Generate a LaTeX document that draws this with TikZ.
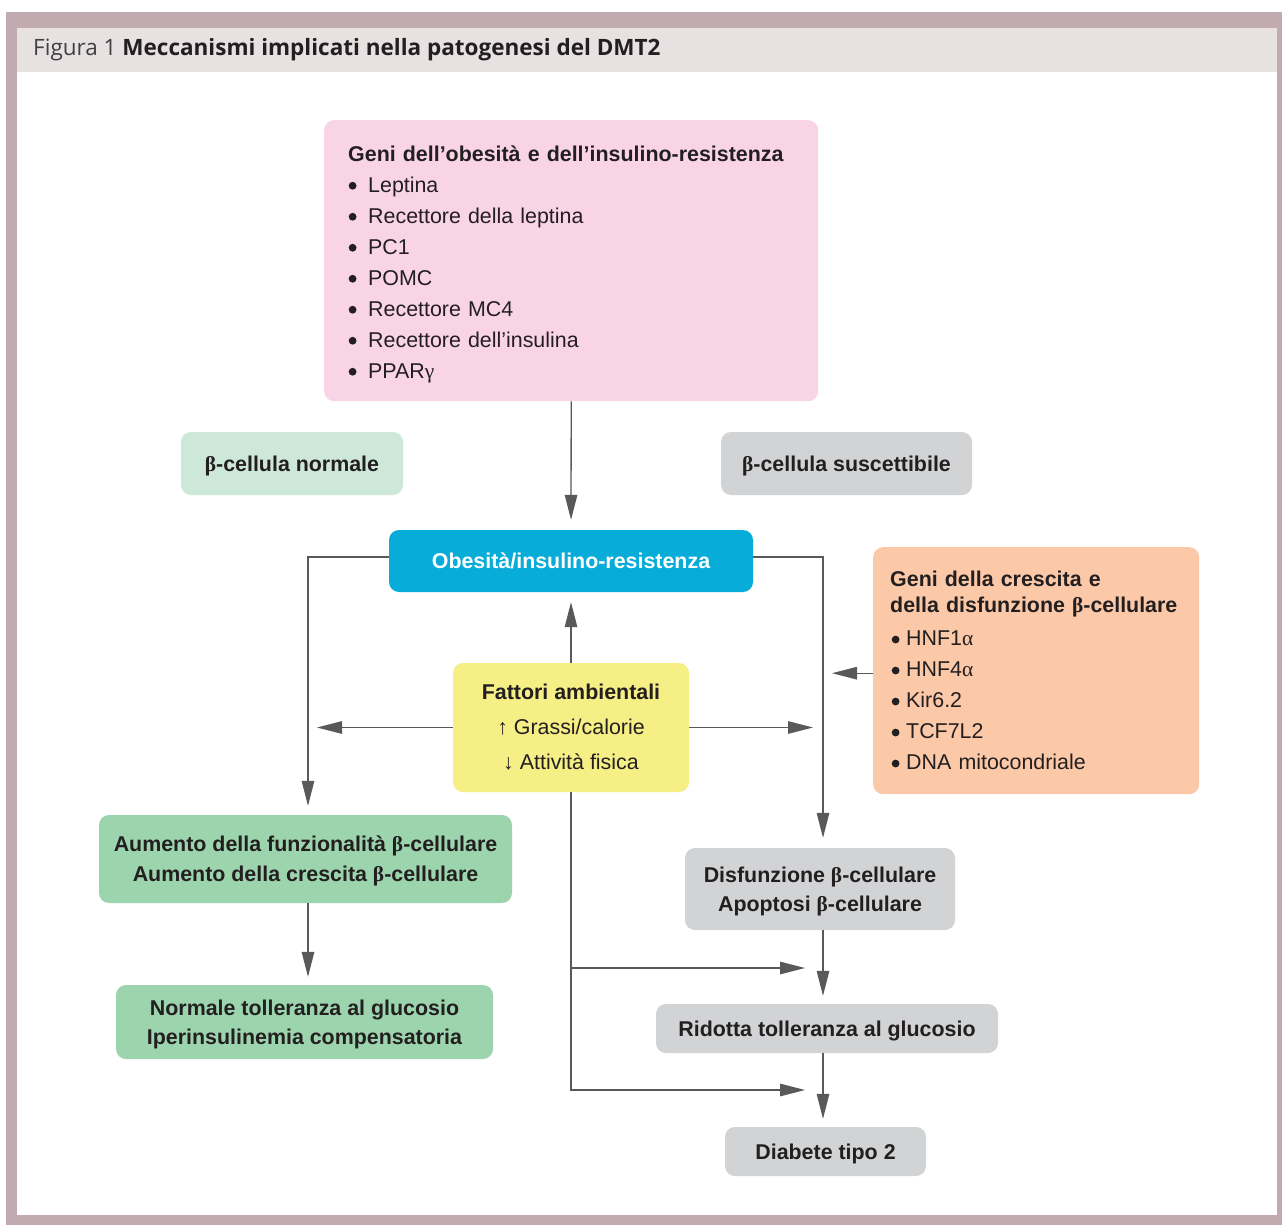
\documentclass[tikz,border=0pt]{standalone}
\usepackage{fontspec}
\setmainfont{Liberation Sans}
\newfontfamily\headfont{Open Sans}
\newfontfamily\gkfont{Liberation Serif}
\usetikzlibrary{arrows.meta}

\definecolor{framec}{HTML}{C1ABB1}
\definecolor{bandc}{HTML}{E7E1E2}
\definecolor{pinkc}{HTML}{F9D4E5}
\definecolor{palegreenc}{HTML}{CDE7D9}
\definecolor{greyc}{HTML}{D1D3D4}
\definecolor{bluec}{HTML}{07ACD9}
\definecolor{orangec}{HTML}{FBC8A8}
\definecolor{yellowc}{HTML}{F6EF85}
\definecolor{greenc}{HTML}{9CD4AE}
\definecolor{linec}{HTML}{58595B}
\definecolor{textc}{HTML}{231F20}

\newcommand{\gbeta}{{\gkfont β}}
\newcommand{\galpha}{{\gkfont α}}
\newcommand{\ggamma}{{\gkfont γ}}
\newcommand{\bulletdot}{\tikz[baseline=0pt]\fill[textc] (4pt,6.3pt) circle (3.9pt);}
\newcommand{\pbul}{\makebox[20pt][l]{\hspace{0.5pt}\bulletdot}}
\newcommand{\obul}{\makebox[16pt][l]{\hspace{1.5pt}\bulletdot}}
\newcommand{\uparr}{{\gkfont ↑}}
\newcommand{\downarr}{{\gkfont ↓}}

\tikzset{
  box/.style={rounded corners=10pt, draw=none, text=textc, inner sep=0pt,
    font=\fontsize{21.4}{30}\selectfont\bfseries, align=center},
  cbox/.style={box, text depth=0pt},
  arr/.style={draw=linec, line width=1.3pt,
    -{Triangle[length=25pt,width=12.5pt]}},
  plainline/.style={draw=linec, line width=1.3pt},
}

\begin{document}
\begin{tikzpicture}[x=1pt,y=-1pt]
\useasboundingbox (0,0) rectangle (1282,1225);

% frame and title band
\fill[framec] (6,12) rectangle (1282,1225);
\fill[white] (17,28) rectangle (1277,1215);
\fill[bandc] (17,28) rectangle (1277,72.5);
\node[anchor=west, inner sep=0pt, font=\headfont\fontsize{22.5}{26}\selectfont]
  (title) at (33,50) {\textcolor{black!75}{Figura 1} \textcolor{textc}{\bfseries Meccanismi implicati nella patogenesi del DMT2}};

% guide columns for the connectors
\coordinate (lx) at (308,0);
\coordinate (rx) at (823,0);

% boxes
\node[box, fill=pinkc, anchor=north west, minimum width=494pt, minimum height=281pt,
  text width=446pt, inner xsep=24pt, align=left, text depth=215pt,
  font=\fontsize{21.4}{31}\selectfont] (geni) at (324,120)
  {{\bfseries Geni dell’obesità e dell’insulino-resistenza}\\
   \pbul Leptina\\
   \pbul Recettore della leptina\\
   \pbul PC1\\
   \pbul POMC\\
   \pbul Recettore MC4\\
   \pbul Recettore dell’insulina\\
   \pbul PPAR\ggamma};

\node[cbox, fill=palegreenc, minimum width=222pt, minimum height=63pt] (normale) at (292,463.5)
  {\gbeta-cellula normale};
\node[cbox, fill=greyc, minimum width=251pt, minimum height=63pt] (susc) at (846.5,463.5)
  {\gbeta-cellula suscettibile};

\node[cbox, fill=bluec, text=white, minimum width=364pt, minimum height=62pt] (obes) at (571,561)
  {Obesità/insulino-resistenza};

\node[box, fill=orangec, anchor=north west, minimum width=326pt, minimum height=247pt,
  text width=292pt, inner xsep=17pt, align=left,
  font=\fontsize{21.4}{31}\selectfont] (crescita) at (873,547)
  {{\bfseries Geni della crescita e}\\[-5pt]
   {\bfseries della disfunzione \gbeta-cellulare}\\[2pt]
   \obul HNF1\galpha\\
   \obul HNF4\galpha\\
   \obul Kir6.2\\
   \obul TCF7L2\\
   \obul DNA mitocondriale};

\node[box, fill=yellowc, minimum width=236pt, minimum height=129pt,
  font=\fontsize{21.4}{35}\selectfont] (fatt) at (571,727.5)
  {{\bfseries Fattori ambientali}\\
   \uparr\ Grassi/calorie\\
   \downarr\ Attività fisica};

\node[cbox, fill=greenc, minimum width=413pt, minimum height=88pt] (aum) at (305.5,859)
  {Aumento della funzionalità \gbeta-cellulare\\
   Aumento della crescita \gbeta-cellulare};
\node[cbox, fill=greenc, minimum width=377pt, minimum height=74pt,
  font=\fontsize{21.4}{29}\selectfont\bfseries] (norm) at (304.5,1022)
  {Normale tolleranza al glucosio\\
   Iperinsulinemia compensatoria};

\node[cbox, fill=greyc, minimum width=270pt, minimum height=82pt,
  font=\fontsize{21.4}{29}\selectfont\bfseries] (disf) at (820,889)
  {Disfunzione \gbeta-cellulare\\
   Apoptosi \gbeta-cellulare};
\node[cbox, fill=greyc, minimum width=342pt, minimum height=49pt] (rid) at (827,1028.5)
  {Ridotta tolleranza al glucosio};
\node[cbox, fill=greyc, minimum width=201pt, minimum height=49pt] (diab) at (825.5,1151.5)
  {Diabete tipo 2};

% connectors
\draw[arr, shorten >=10pt] (geni.south) -- (obes.north);
\draw[arr, shorten >=10pt] (fatt.north) -- (obes.south);
\draw[arr, shorten >=9pt] ([yshift=4pt]obes.west) -| (aum.north -| lx);
\draw[arr, shorten >=10pt] ([yshift=4pt]obes.east) -| (disf.north -| rx);
\draw[arr, shorten >=9pt] (fatt.west) -- (fatt.west -| lx);
\draw[arr, shorten >=10pt] (fatt.east) -- (fatt.east -| rx);
\draw[arr, shorten >=9pt] ([yshift=-2.5pt]crescita.west) -- ([yshift=-2.5pt]crescita.west -| rx);

\coordinate (j1) at (571,968);
\coordinate (j2) at (571,1090);
\draw[plainline] (fatt.south) -- (j2);
\draw[arr, shorten >=18pt] (j1) -- (j1 -| rx);
\draw[arr, shorten >=18pt] ([xshift=-0.65pt]j2) -- (j2 -| rx);

\draw[arr, shorten >=8pt] (aum.south -| lx) -- (norm.north -| lx);
\draw[arr, shorten >=8pt] (disf.south -| rx) -- (rid.north -| rx);
\draw[arr, shorten >=8pt] (rid.south -| rx) -- (diab.north -| rx);
\end{tikzpicture}
\end{document}
